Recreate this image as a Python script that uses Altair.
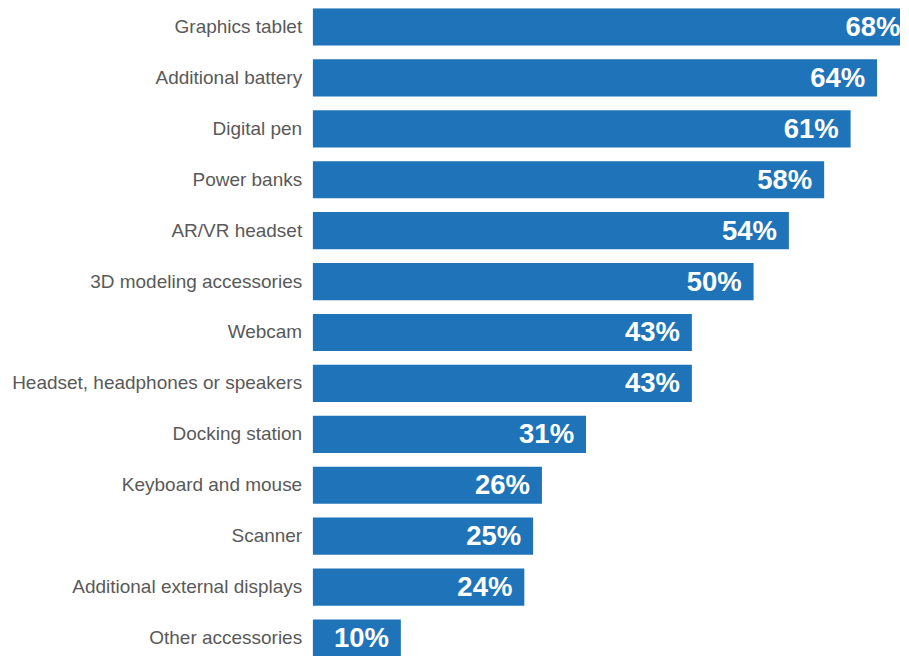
import altair as alt
import pandas as pd

categories = [
    "Graphics tablet",
    "Additional battery",
    "Digital pen",
    "Power banks",
    "AR/VR headset",
    "3D modeling accessories",
    "Webcam",
    "Headset, headphones or speakers",
    "Docking station",
    "Keyboard and mouse",
    "Scanner",
    "Additional external displays",
    "Other accessories",
]
values = [68, 64, 61, 58, 54, 50, 43, 43, 31, 26, 25, 24, 10]
labels = [f"{v}%" for v in values]

df = pd.DataFrame({"category": categories, "value": values, "label": labels})

y_enc = alt.Y(
    "category:N",
    sort=categories,
    title=None,
    scale=alt.Scale(paddingInner=0.27, paddingOuter=0),
    axis=alt.Axis(
        ticks=False,
        domain=False,
        labelPadding=11,
        minExtent=305,
        maxExtent=305,
        labelFont="Liberation Sans, Arial",
        labelFontSize=19,
        labelColor="#595959",
        labelLimit=400,
    ),
)
x_scale = alt.Scale(domain=[0, 66.6], nice=False)

bars = alt.Chart(df).mark_bar(color="#1f74b9", clip=True).encode(
    y=y_enc,
    x=alt.X("value:Q", scale=x_scale, axis=None),
)

text = alt.Chart(df).mark_text(
    align="right",
    baseline="middle",
    dx=-12,
    dy=1,
    color="white",
    font="Liberation Sans, Arial",
    fontSize=27.5,
    fontWeight="bold",
).encode(
    y=alt.Y("category:N", sort=categories),
    x=alt.X("value:Q", scale=x_scale),
    text="label:N",
)

chart = (
    alt.layer(bars, text)
    .properties(width=588, height=649, padding=0)
    .configure_view(stroke=None)
)

chart.save("out.html", embed_options={"renderer": "svg", "actions": False})
